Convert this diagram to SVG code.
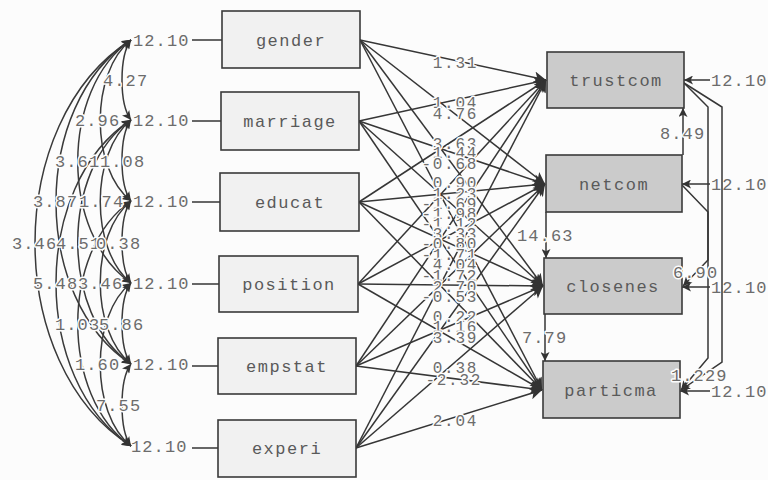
<svg xmlns="http://www.w3.org/2000/svg" width="768" height="480" viewBox="0 0 768 480">
<style>
.bg{fill:#fcfcfc}
.lb rect{fill:#f1f1f1;stroke:#3a3a3a;stroke-width:1.6}
.rb rect{fill:#cbcbcb;stroke:#3a3a3a;stroke-width:1.6}
.nm{font-family:"Liberation Mono","DejaVu Sans Mono",monospace;font-size:17px;letter-spacing:1.5px;fill:#5a5a5a;text-anchor:middle}
.v{font-family:"Liberation Mono","DejaVu Sans Mono",monospace;font-size:17px;letter-spacing:1.1px;fill:#6c6c6c}
.m{font-size:16px;letter-spacing:1.7px}
.h{paint-order:stroke;stroke:#fcfcfc;stroke-width:3px;stroke-linejoin:round}
.ln{stroke:#363636;stroke-width:1.5;fill:none}
.path{stroke:#363636;stroke-width:1.5;fill:none;marker-end:url(#big)}
.cov{stroke:#3a3a3a;stroke-width:1.5;fill:none;marker-start:url(#sm);marker-end:url(#sm)}
.arr{stroke:#363636;stroke-width:1.5;fill:none;marker-end:url(#sm)}
</style>
<defs>
<marker id="big" viewBox="0 0 10 10" refX="10" refY="5" markerWidth="18" markerHeight="12" markerUnits="userSpaceOnUse" orient="auto"><path d="M0,0 L10,5 L0,10 L2.5,5 z" fill="#333"/></marker>
<marker id="sm" viewBox="0 0 10 10" refX="10" refY="5" markerWidth="15" markerHeight="9" markerUnits="userSpaceOnUse" orient="auto-start-reverse"><path d="M0,0 L10,5 L0,10 L2.5,5 z" fill="#333"/></marker>
</defs>
<rect class="bg" x="0" y="0" width="768" height="480"/>

<g id="connectors">
<g id="covariances">
<path class="cov" d="M131,40 C119,56 119,104 131,120"/>
<path class="cov" d="M131,120 C119,136 119,185 131,201"/>
<path class="cov" d="M131,201 C119,217 119,267 131,283"/>
<path class="cov" d="M131,283 C119,299 119,348 131,364"/>
<path class="cov" d="M131,364 C119,380 119,430 131,446"/>
<path class="cov" d="M131,40 C90,72 90,169 131,201"/>
<path class="cov" d="M131,120 C90,153 90,250 131,283"/>
<path class="cov" d="M131,201 C90,234 90,331 131,364"/>
<path class="cov" d="M131,283 C90,315 90,414 131,446"/>
<path class="cov" d="M131,40 C60,89 60,234 131,283"/>
<path class="cov" d="M131,120 C60,169 60,315 131,364"/>
<path class="cov" d="M131,201 C60,250 60,397 131,446"/>
<path class="cov" d="M131,40 C31,105 31,299 131,364"/>
<path class="cov" d="M131,120 C31,185 31,381 131,446"/>
<path class="cov" d="M131,40 C3,121 3,365 131,446"/>
</g>
<g id="exo-errors">
<line class="ln" x1="192" y1="40" x2="222" y2="40"/>
<line class="ln" x1="192" y1="121" x2="221" y2="121"/>
<line class="ln" x1="192" y1="202" x2="220" y2="202"/>
<line class="ln" x1="192" y1="284" x2="219" y2="284"/>
<line class="ln" x1="192" y1="366" x2="218" y2="366"/>
<line class="ln" x1="192" y1="448" x2="218" y2="448"/>
</g>
<g id="gamma">
<line class="path" x1="360" y1="40" x2="546" y2="80"/>
<line class="path" x1="360" y1="40" x2="545" y2="184"/>
<line class="path" x1="360" y1="40" x2="543" y2="286"/>
<line class="path" x1="360" y1="40" x2="542" y2="390"/>
<line class="path" x1="359" y1="121" x2="546" y2="80"/>
<line class="path" x1="359" y1="121" x2="545" y2="184"/>
<line class="path" x1="359" y1="121" x2="543" y2="286"/>
<line class="path" x1="359" y1="121" x2="542" y2="390"/>
<line class="path" x1="359" y1="202" x2="546" y2="80"/>
<line class="path" x1="359" y1="202" x2="545" y2="184"/>
<line class="path" x1="359" y1="202" x2="543" y2="286"/>
<line class="path" x1="359" y1="202" x2="542" y2="390"/>
<line class="path" x1="358" y1="284" x2="546" y2="80"/>
<line class="path" x1="358" y1="284" x2="545" y2="184"/>
<line class="path" x1="358" y1="284" x2="543" y2="286"/>
<line class="path" x1="358" y1="284" x2="542" y2="390"/>
<line class="path" x1="356" y1="366" x2="546" y2="80"/>
<line class="path" x1="356" y1="366" x2="545" y2="184"/>
<line class="path" x1="356" y1="366" x2="543" y2="286"/>
<line class="path" x1="356" y1="366" x2="542" y2="390"/>
<line class="path" x1="356" y1="448" x2="546" y2="80"/>
<line class="path" x1="356" y1="448" x2="545" y2="184"/>
<line class="path" x1="356" y1="448" x2="543" y2="286"/>
<line class="path" x1="356" y1="448" x2="542" y2="390"/>
</g>
<g id="beta">
<line class="arr" x1="683" y1="155" x2="683" y2="108"/>
<line class="arr" x1="546" y1="212" x2="546" y2="258"/>
<line class="arr" x1="545" y1="314" x2="545" y2="361"/>
<polyline class="arr" points="684,83 708,107 708,260 683,286"/>
<polyline class="arr" points="684,83 722,107 722,362 681,390"/>
<polyline class="arr" points="682,185 708,212 708,358 681,390"/>
</g>
<g id="endo-errors">
<line class="arr" x1="710" y1="80" x2="684" y2="80"/>
<line class="arr" x1="710" y1="184" x2="682" y2="184"/>
<line class="arr" x1="710" y1="287" x2="682" y2="287"/>
<line class="arr" x1="710" y1="391" x2="680" y2="391"/>
</g>
</g>

<g id="gender" class="lb"><rect x="222" y="11" width="138" height="57"/><text class="nm" x="291" y="46">gender</text></g>
<g id="marriage" class="lb"><rect x="221" y="92" width="138" height="58"/><text class="nm" x="290" y="127">marriage</text></g>
<g id="educat" class="lb"><rect x="220" y="173" width="139" height="58"/><text class="nm" x="290" y="208">educat</text></g>
<g id="position" class="lb"><rect x="219" y="256" width="139" height="56"/><text class="nm" x="289" y="290">position</text></g>
<g id="empstat" class="lb"><rect x="218" y="338" width="138" height="56"/><text class="nm" x="287" y="372">empstat</text></g>
<g id="experi" class="lb"><rect x="218" y="420" width="138" height="57"/><text class="nm" x="287" y="454">experi</text></g>

<g id="trustcom" class="rb"><rect x="547" y="52" width="137" height="56"/><text class="nm" x="616" y="86">trustcom</text></g>
<g id="netcom" class="rb"><rect x="546" y="155" width="136" height="57"/><text class="nm" x="614" y="190">netcom</text></g>
<g id="closenes" class="rb"><rect x="544" y="258" width="138" height="56"/><text class="nm" x="613" y="292">closenes</text></g>
<g id="particma" class="rb"><rect x="543" y="361" width="137" height="57"/><text class="nm" x="611" y="396">particma</text></g>

<g id="labels">
<g class="v">
<text x="133" y="46">12.10</text>
<text x="133" y="126">12.10</text>
<text x="133" y="207">12.10</text>
<text x="133" y="289">12.10</text>
<text x="133" y="370">12.10</text>
<text x="131" y="452">12.10</text>
</g>
<g class="v h">
<text x="12" y="249">3.46</text>
<text x="33" y="207">3.87</text>
<text x="33" y="289">5.48</text>
<text x="55" y="167">3.61</text>
<text x="56" y="249">4.51</text>
<text x="55" y="330">1.03</text>
<text x="75" y="126">2.96</text>
<text x="79" y="207">1.74</text>
<text x="78" y="289">3.46</text>
<text x="75" y="370">1.60</text>
<text x="103" y="86">4.27</text>
<text x="100" y="167">1.08</text>
<text x="96" y="249">0.38</text>
<text x="99" y="330">5.86</text>
<text x="96" y="411">7.55</text>
</g>
<g class="v m h" text-anchor="end">
<text x="478" y="68">1.31</text>
<text x="478" y="108">1.04</text>
<text x="478" y="119">4.76</text>
<text x="478" y="149">3.63</text>
<text x="478" y="158">1.44</text>
<text x="478" y="169">-0.68</text>
<text x="478" y="188">0.90</text>
<text x="478" y="199">1.23</text>
<text x="478" y="209">-1.69</text>
<text x="478" y="219">-1.98</text>
<text x="478" y="229">-1.12</text>
<text x="478" y="239">3.33</text>
<text x="478" y="249">-0.80</text>
<text x="478" y="260">-1.71</text>
<text x="478" y="270">4.04</text>
<text x="478" y="281">-1.72</text>
<text x="478" y="292">2.70</text>
<text x="478" y="302">-0.53</text>
<text x="478" y="322">0.22</text>
<text x="478" y="332">1.16</text>
<text x="478" y="343">3.39</text>
<text x="478" y="373">0.38</text>
<text x="482" y="385">-2.32</text>
<text x="478" y="426">2.04</text>
</g>
<g class="v h">
<text x="660" y="139">8.49</text>
<text x="517" y="241">14.63</text>
<text x="522" y="343">7.79</text>
<text x="673" y="278">6.90</text>
<text x="671" y="381">1.229</text>
</g>
<g class="v">
<text x="711" y="86">12.10</text>
<text x="711" y="190">12.10</text>
<text x="711" y="293">12.10</text>
<text x="711" y="397">12.10</text>
</g>
</g>
</svg>
